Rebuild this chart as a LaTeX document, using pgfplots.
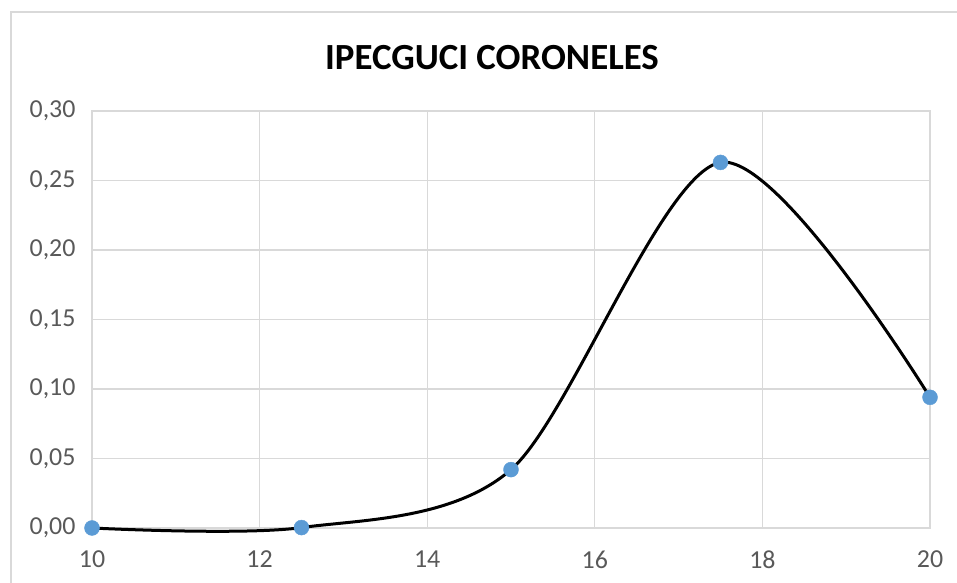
\documentclass[border=0pt]{standalone}
\usepackage{pgfplots}
\pgfplotsset{compat=1.18}
\usepackage{fontspec}
\setmainfont{Carlito}
\definecolor{gridc}{HTML}{D9D9D9}
\definecolor{tickc}{HTML}{595959}
\definecolor{markc}{HTML}{5B9BD5}
\begin{document}
\begin{tikzpicture}[x=1bp,y=1bp]
\path[use as bounding box] (0,0) rectangle (957,583);
\draw[gridc, line width=1.2bp] (11,-5) -- (11,571) -- (962,571);
\node[font=\fontsize{37}{42}\selectfont\bfseries, text=black] at (492,525) {IPECGUCI CORONELES};
\begin{axis}[
  at={(92bp,55bp)}, anchor=south west,
  scale only axis, width=838bp, height=417bp,
  xmin=10, xmax=20, ymin=0, ymax=0.30,
  xtick={10,12,...,20}, ytick={0,0.05,...,0.30},
  grid=major, grid style={gridc, line width=1.2bp},
  axis line style={gridc, line width=1.2bp},
  major tick length=0pt,
  tick label style={font=\fontsize{26}{29}\selectfont, text=tickc},
  yticklabel style={/pgf/number format/.cd, use comma, fixed, fixed zerofill, precision=2, assume math mode=true},
  xticklabel style={/pgf/number format/assume math mode=true},
  xticklabel shift=19bp, yticklabel shift=13bp,
  clip=false,
]
\addplot[black, line width=3bp, smooth, tension=0.5] coordinates {
  (10,0) (12.5,0.0003) (15,0.042) (17.5,0.263) (20,0.094)
};
\addplot[only marks, mark=*, mark size=7.5bp, mark options={fill=markc, draw=markc}] coordinates {
  (10,0) (12.5,0.0003) (15,0.042) (17.5,0.263) (20,0.094)
};
\end{axis}
\end{tikzpicture}
\end{document}
